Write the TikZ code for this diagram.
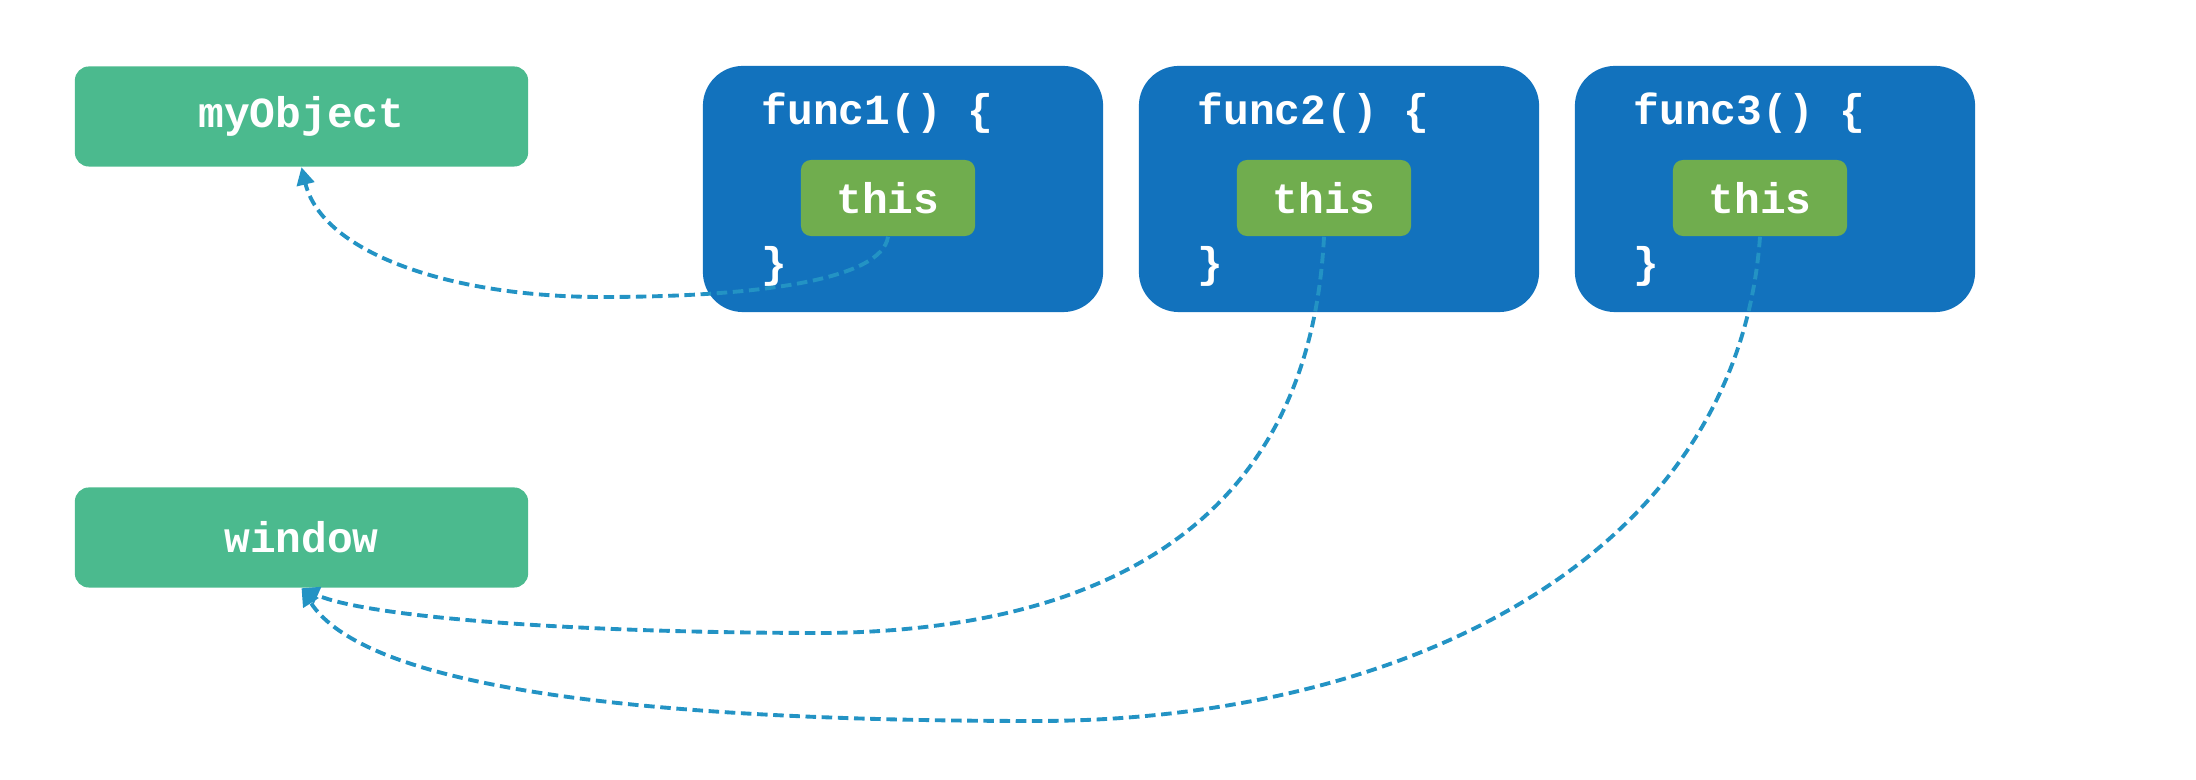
\documentclass[tikz,border=0pt]{standalone}
\usepackage{fontspec}
\setmonofont{Liberation Mono}
\usetikzlibrary{arrows.meta}
\definecolor{objgreen}{RGB}{75,186,142}
\definecolor{funcblue}{RGB}{18,114,189}
\definecolor{thisgreen}{RGB}{112,173,78}
\definecolor{refblue}{RGB}{35,147,196}
\tikzset{
  code/.style={text=white, font=\ttfamily\bfseries\fontsize{12.2}{14}\selectfont},
  objbox/.style={code, fill=objgreen, rounded corners=0.14cm, inner sep=0pt,
    minimum width=4.53cm, minimum height=1.0cm},
  funcbox/.style={fill=funcblue, rounded corners=0.4cm, inner sep=0pt,
    minimum width=4.0cm, minimum height=2.46cm},
  thisbox/.style={code, fill=thisgreen, rounded corners=0.1cm, inner sep=0pt,
    minimum width=1.74cm, minimum height=0.76cm},
  codetext/.style={code, anchor=base west, inner sep=0pt},
  ref/.style={draw=refblue, line width=1.1pt, dash pattern=on 3pt off 1.6pt,
    -{Triangle[length=5pt,width=5pt]}},
}
\begin{document}
\begin{tikzpicture}[x=0.01cm,y=-0.01cm]
\useasboundingbox (0,0) rectangle (2196,780);
% left objects
\node[objbox] (obj) at (301.5,116.5) {myObject};
\node[objbox] (win) at (301.5,537.5) {window};
% functions
\node[funcbox] (f1) at (903,189) {};
\node[funcbox] (f2) at (1339,189) {};
\node[funcbox] (f3) at (1775,189) {};
\node[codetext] (h1) at (761,125) {func1() \{};
\node[codetext] (h2) at (1197,125) {func2() \{};
\node[codetext] (h3) at (1633,125) {func3() \{};
\node[codetext] (c1) at (761,278) {\}};
\node[codetext] (c2) at (1197,278) {\}};
\node[codetext] (c3) at (1633,278) {\}};
\node[thisbox] (t1) at (888,198) {this};
\node[thisbox] (t2) at (1324,198) {this};
\node[thisbox] (t3) at (1760,198) {this};
% references
\draw[ref] (t1.south) .. controls (882,280) and (756,297) .. (602,297)
  .. controls (448,297) and (322,252) .. (obj.south);
\draw[ref] (t2.south) .. controls (1309,532) and (1092,630) .. (826,633)
  .. controls (560,633) and (364,616) .. (win.south);
\draw[ref] (t3.south) .. controls (1737,560) and (1400,721) .. (1036,721)
  .. controls (630,721) and (364,686) .. (win.south);
\end{tikzpicture}
\end{document}
